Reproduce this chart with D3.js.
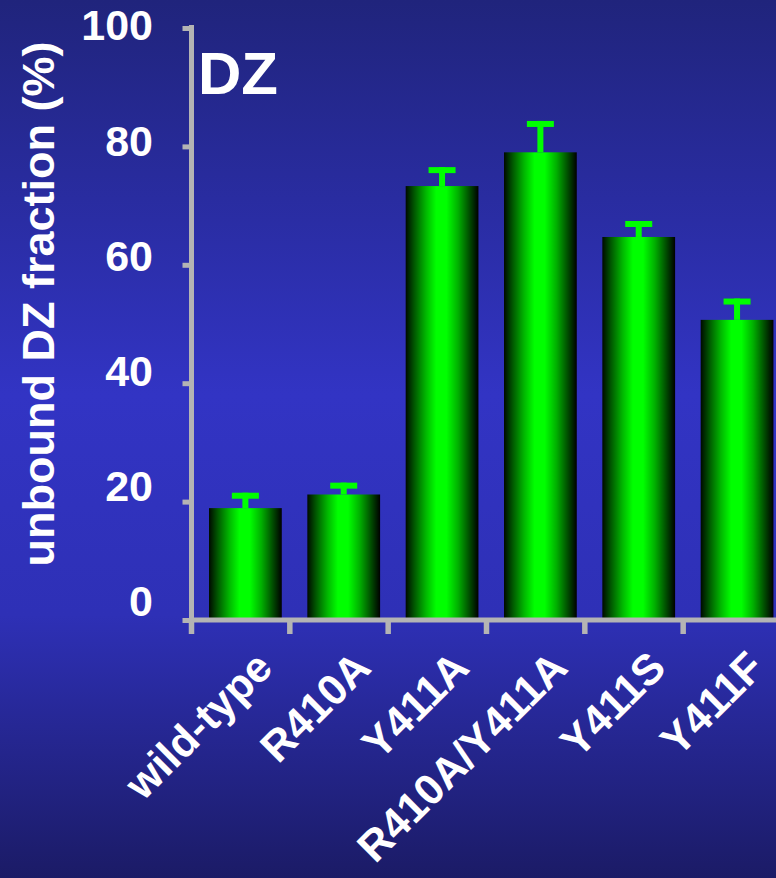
<!DOCTYPE html>
<html>
<head>
<meta charset="utf-8">
<script src="https://cdn.jsdelivr.net/npm/d3@7"></script>
<style>
  html, body { margin: 0; padding: 0; background: #1b1b66; }
  svg { display: block; }
  text { font-family: "Liberation Sans", Arial, sans-serif; font-weight: bold; fill: #ffffff; }
</style>
</head>
<body>
<svg id="chart" width="776" height="878"></svg>
<script>
// Unbound DZ fraction for each construct (mean and upper error)
const categories = ["wild-type", "R410A", "Y411A", "R410A/Y411A", "Y411S", "Y411F"];
const means      = [18.9, 21.2, 73.3, 79.0, 64.7, 50.7];
const errors     = [2.6, 2.0, 3.2, 5.3, 2.7, 3.6];
const yTicks     = [0, 20, 40, 60, 80, 100];
const yTitle     = "unbound DZ fraction (%)";
const panelLabel = "DZ";

const W = 776, H = 878;
const svg = d3.select("#chart");
const defs = svg.append("defs");

// background: vertical blue gradient
const bg = defs.append("linearGradient").attr("id", "bg")
  .attr("x1", 0).attr("y1", 0).attr("x2", 0).attr("y2", 1);
[[0, "#20247c"], [0.45, "#3234c4"], [0.7, "#2e30b6"], [1, "#1b1b66"]]
  .forEach(([o, c]) => bg.append("stop").attr("offset", o).attr("stop-color", c));
svg.append("rect").attr("width", W).attr("height", H).attr("fill", "url(#bg)");

// bar fill: horizontal cylinder-like green shading
const bar = defs.append("linearGradient").attr("id", "barFill")
  .attr("x1", 0).attr("y1", 0).attr("x2", 1).attr("y2", 0);
[[0, "#000a00"], [0.12, "#005800"], [0.28, "#00b800"], [0.42, "#00ff00"],
 [0.56, "#00ff00"], [0.72, "#00b000"], [0.88, "#004a00"], [1, "#000000"]]
  .forEach(([o, c]) => bar.append("stop").attr("offset", o).attr("stop-color", c));

// scales
const y = d3.scaleLinear().domain([0, 100]).range([620, 28]);
const yLabel = d3.scaleLinear().domain([0, 100]).range([601, 25]);
const x = d3.scaleBand().domain(categories).range([191.5, 781.5]);
const bw = x.bandwidth();
const barX = c => x(c) + bw * 0.178;
const barW = bw * 0.74;

const data = categories.map((c, i) => ({ c, m: means[i], e: errors[i] }));

// bars
svg.append("g").selectAll("rect").data(data).join("rect")
  .attr("x", d => barX(d.c))
  .attr("y", d => y(d.m))
  .attr("width", barW)
  .attr("height", d => y(0) - y(d.m))
  .attr("fill", "url(#barFill)");

// error bars (upper only)
const eb = svg.append("g").attr("fill", "#00ff00");
eb.selectAll("rect.stem").data(data).join("rect").attr("class", "stem")
  .attr("x", d => barX(d.c) + barW / 2 - 3)
  .attr("y", d => y(d.m + d.e))
  .attr("width", 6)
  .attr("height", d => y(d.m) - y(d.m + d.e));
eb.selectAll("rect.cap").data(data).join("rect").attr("class", "cap")
  .attr("x", d => barX(d.c) + barW / 2 - 13.5)
  .attr("y", d => y(d.m + d.e))
  .attr("width", 27)
  .attr("height", 6);

// axes
const axisColor = "#b4b4b4";
const gy = svg.append("g").attr("transform", "translate(191.5,0)")
  .call(d3.axisLeft(y).tickValues(yTicks).tickSize(9).tickSizeOuter(0).tickFormat(""));
gy.select(".domain").attr("stroke", axisColor).attr("stroke-width", 5)
  .attr("d", `M0,${y(100) - 3}V${y(0) + 2.5}`);
gy.selectAll(".tick line").attr("stroke", axisColor).attr("stroke-width", 5);

const gx = svg.append("g");
gx.append("line").attr("x1", 191.5).attr("x2", W)
  .attr("y1", y(0)).attr("y2", y(0))
  .attr("stroke", axisColor).attr("stroke-width", 5);
gx.selectAll("line.tick").data(categories).join("line").attr("class", "tick")
  .attr("x1", d => x(d)).attr("x2", d => x(d))
  .attr("y1", y(0)).attr("y2", y(0) + 14)
  .attr("stroke", axisColor).attr("stroke-width", 5.5);

// y tick labels
svg.append("g").selectAll("text").data(yTicks).join("text")
  .attr("x", 153).attr("y", d => yLabel(d)).attr("dy", "0.36em")
  .attr("text-anchor", "end").attr("font-size", 43)
  .text(d => d);

// x category labels, rotated
svg.append("g").selectAll("text").data(categories).join("text")
  .attr("text-anchor", "end").attr("font-size", 43)
  .attr("transform", d => `translate(${x(d) + bw / 2 + 34},670) rotate(-45)`)
  .text(d => d);

// y axis title
svg.append("text")
  .attr("transform", "translate(54,304) rotate(-90)")
  .attr("text-anchor", "middle").attr("font-size", 45)
  .text(yTitle);

// panel label
svg.append("text").attr("x", 198).attr("y", 94).attr("font-size", 60).text(panelLabel);
</script>
</body>
</html>
